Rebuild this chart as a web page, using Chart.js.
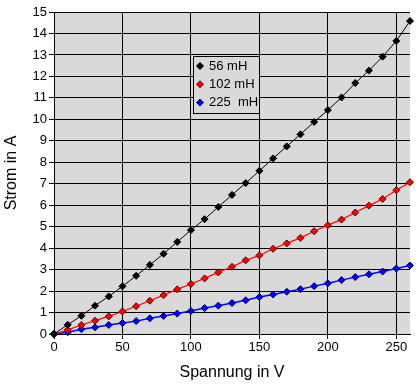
<!DOCTYPE html>
<html>
<head>
<meta charset="utf-8">
<script src="https://cdn.jsdelivr.net/npm/chart.js@4/dist/chart.umd.min.js"></script>
<style>
  html, body { margin: 0; padding: 0; background: #fff; }
  #wrap { width: 420px; height: 386px; }
</style>
</head>
<body>
<div id="wrap"><canvas id="chart" width="420" height="386"></canvas></div>
<script>
// Messwerte: Spannung (V) und Strom (A) je Induktivität
const spannung = [0, 10, 20, 30, 40, 50, 60, 70, 80, 90, 100, 110, 120, 130,
    140, 150, 160, 170, 180, 190, 200, 210, 220, 230, 240, 250, 260];
const strom56 = [0, 0.43, 0.85, 1.32, 1.75, 2.22, 2.71, 3.22, 3.74, 4.29, 4.84, 5.35, 5.92, 6.48,
    7.03, 7.6, 8.18, 8.74, 9.3, 9.88, 10.43, 11.02, 11.69, 12.27, 12.92, 13.65, 14.58];
const strom102 = [0, 0.19, 0.42, 0.62, 0.82, 1.05, 1.29, 1.55, 1.81, 2.08, 2.33, 2.59, 2.87, 3.13,
    3.43, 3.66, 3.97, 4.22, 4.48, 4.79, 5.07, 5.33, 5.66, 5.98, 6.29, 6.7, 7.07];
const strom225 = [0, 0.08, 0.22, 0.31, 0.42, 0.51, 0.6, 0.73, 0.84, 0.95, 1.07, 1.21, 1.32, 1.44,
    1.57, 1.72, 1.84, 1.97, 2.09, 2.23, 2.36, 2.51, 2.65, 2.78, 2.91, 3.05, 3.19];
const serienNamen = ['56 mH', '102 mH', '225  mH'];

const FONT = '"Liberation Sans", Arial, sans-serif';
Chart.defaults.font.family = FONT;
Chart.defaults.color = '#000';

function punkte(ys) {
    return spannung.map((x, i) => ({ x: x, y: ys[i] }));
}

function serie(label, ys, color, pointBorder, width) {
    return {
        label: label,
        data: punkte(ys),
        borderColor: color,
        backgroundColor: color,
        borderWidth: width,
        pointStyle: 'rectRot',
        pointRadius: 3.5,
        pointBackgroundColor: color,
        pointBorderColor: pointBorder,
        pointBorderWidth: 1,
        showLine: true,
        tension: 0,
        clip: false
    };
}

// grauer Hintergrund der Zeichenfläche
const plotBg = {
    id: 'plotBg',
    beforeDraw(chart) {
        const { ctx, chartArea: a } = chart;
        ctx.save();
        ctx.fillStyle = '#d9d9d9';
        ctx.fillRect(a.left, a.top, a.right - a.left, a.bottom - a.top);
        ctx.restore();
    }
};

// Legende innerhalb der Zeichenfläche
const innerLegend = {
    id: 'innerLegend',
    afterDatasetsDraw(chart) {
        const ctx = chart.ctx;
        const x = 193, y = 56, w = 66, h = 57;
        ctx.save();
        ctx.fillStyle = '#d9d9d9';
        ctx.fillRect(x, y, w, h);
        ctx.strokeStyle = '#000';
        ctx.lineWidth = 1;
        ctx.strokeRect(x + 0.5, y + 0.5, w, h);
        ctx.font = '13px ' + FONT;
        ctx.textBaseline = 'middle';
        chart.data.datasets.forEach((ds, i) => {
            const cy = y + 10 + i * 18.3;
            const cx = x + 7;
            ctx.beginPath();
            ctx.moveTo(cx, cy - 3.5);
            ctx.lineTo(cx + 3.5, cy);
            ctx.lineTo(cx, cy + 3.5);
            ctx.lineTo(cx - 3.5, cy);
            ctx.closePath();
            ctx.fillStyle = ds.pointBackgroundColor;
            ctx.fill();
            ctx.strokeStyle = ds.pointBorderColor;
            ctx.stroke();
            ctx.fillStyle = '#000';
            ctx.fillText(ds.label, x + 16, cy);
        });
        ctx.restore();
    }
};

new Chart(document.getElementById('chart'), {
    type: 'scatter',
    data: {
        datasets: [
            serie(serienNamen[0], strom56, '#000000', '#000000', 1),
            serie(serienNamen[1], strom102, '#ff0000', '#600000', 1.2),
            serie(serienNamen[2], strom225, '#0000ff', '#000060', 1.5)
        ]
    },
    options: {
        responsive: false,
        animation: false,
        layout: { padding: { top: 12, right: 10, left: 0, bottom: 0 } },
        plugins: {
            legend: { display: false },
            tooltip: { enabled: false }
        },
        scales: {
            x: {
                type: 'linear',
                min: 0,
                max: 260,
                ticks: { stepSize: 50, includeBounds: false, padding: 1, font: { size: 13 } },
                grid: { color: '#000', lineWidth: 1, tickLength: 5 },
                border: { color: '#000', width: 1 },
                title: { display: true, text: 'Spannung in V', font: { size: 16 }, padding: { top: 3 } },
                afterFit(scale) { scale.height = 52; }
            },
            y: {
                min: 0,
                max: 15,
                ticks: { stepSize: 1, padding: 2, font: { size: 13 } },
                grid: { color: '#000', lineWidth: 1, tickLength: 5 },
                border: { color: '#000', width: 1 },
                title: { display: true, text: 'Strom in A', font: { size: 16 }, padding: { top: 2, bottom: 4 } },
                afterFit(scale) { scale.width = 54; }
            }
        }
    },
    plugins: [plotBg, innerLegend]
});
</script>
</body>
</html>
